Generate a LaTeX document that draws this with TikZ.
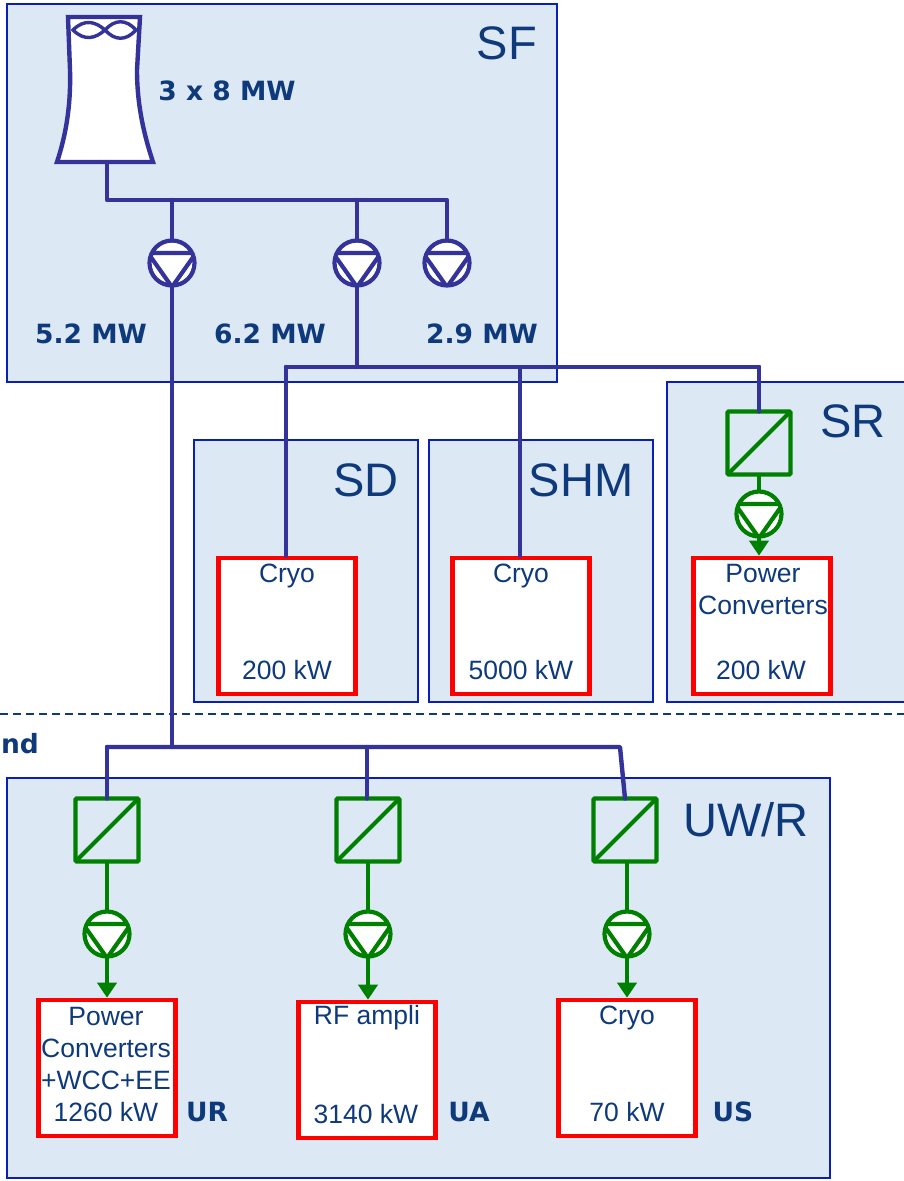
\documentclass[tikz,border=0pt]{standalone}
\usepackage{fontspec}
\setmainfont{Liberation Sans}
\newfontfamily\labfont{DejaVu Sans}
\usetikzlibrary{arrows.meta,calc}
\definecolor{panelCol}{HTML}{DCE8F4}
\definecolor{panelEdge}{HTML}{0A1FB8}
\definecolor{pipeCol}{HTML}{333399}
\definecolor{loopCol}{HTML}{008000}
\definecolor{loadEdge}{HTML}{FF0000}
\definecolor{txtCol}{HTML}{0E3A7C}
\tikzset{
  panel/.style n args={2}{draw=panelEdge, fill=panelCol, line width=1.4pt, anchor=north west,
        inner sep=0pt, outer sep=0pt, minimum width=#1, minimum height=#2},
  loadbox/.style={draw=loadEdge, fill=white, line width=4.6pt, inner sep=0pt,
        minimum width=137pt, minimum height=136pt},
  conv/.style={draw=loopCol, line width=4.2pt, rounded corners=1pt, inner sep=0pt, outer sep=0pt,
        minimum width=63pt, minimum height=63pt,
        path picture={\draw[loopCol, line width=4.2pt]
            (path picture bounding box.south west)--(path picture bounding box.north east);}},
  pump/.style={circle, draw=#1, fill=white, line width=4.2pt, inner sep=0pt, outer sep=0pt,
        minimum size=45pt,
        path picture={\draw[#1, line width=4.2pt, line join=round]
            ($(path picture bounding box.center)+(-24pt,10pt)$)--
            ($(path picture bounding box.center)+(24pt,10pt)$)--
            ($(path picture bounding box.center)+(0pt,-24pt)$)--cycle;}},
  pipe/.style={draw=pipeCol, line width=4.4pt, line cap=round, line join=round},
  lp/.style={draw=loopCol, line width=4.2pt},
  lpa/.style={lp, -{Triangle[length=15pt,width=19pt]}},
  sitelab/.style={font=\fontsize{47}{47}\selectfont, text=txtCol, inner sep=0pt},
  ltxt/.style={font=\fontsize{26.5}{32}\selectfont, text=txtCol, align=center, inner sep=0pt},
  mw/.style={font=\labfont\bfseries\fontsize{26.5}{26.5}\selectfont, text=txtCol, inner sep=0pt},
}
\begin{document}
\begin{tikzpicture}[x=1pt,y=-1pt]
  \useasboundingbox (0,0) rectangle (904,1181);
  % site panels
  \node[panel={550pt}{378pt}] (sf) at (7,4){};
  \node[panel={224pt}{262pt}] (sd) at (194,440){};
  \node[panel={224pt}{262pt}] (shm) at (429,440){};
  \node[panel={240pt}{320pt}] (sr) at (667,382){};
  \node[panel={823pt}{400pt}] (uw) at (7,778){};
  \node[sitelab] (sfN) at (507,43){SF};
  \node[sitelab] (sdN) at (366,480){SD};
  \node[sitelab] (shmN) at (581,480){SHM};
  \node[sitelab] (srN) at (853,421){SR};
  \node[sitelab] (uwN) at (746,820){UW/R};
  % surface/underground limit
  \coordinate (limL) at (0,714);
  \coordinate (limR) at (904,714);
  \draw[txtCol, line width=1.6pt, dash pattern=on 8pt off 5pt] (limL)--(limR);
  \node[mw] (ndT) at (20,744){nd};
  % cooling tower
  \draw[pipeCol, line width=4.4pt, fill=white, line join=miter]
    (68,17)--(140,17)--(137,70) .. controls (137,105) and (144,135) .. (153,162)--(57,162)
    .. controls (66,135) and (71,105) .. (70,70)--cycle;
  \draw[pipeCol, line width=3.4pt]
    (73,30) .. controls (84,19) and (95,21) .. (105,30) .. controls (115,41) and (126,41) .. (136,30)
    .. controls (126,19) and (115,19) .. (105,30) .. controls (95,39) and (84,41) .. (73,30)--cycle;
  \coordinate (twr) at (107,163);
  % pumps
  \node[pump=pipeCol] (p1) at (172,263){};
  \node[pump=pipeCol] (p2) at (357,263){};
  \node[pump=pipeCol] (p3) at (447,263){};
  \node[pump=loopCol] (p4) at (759,514){};
  \node[pump=loopCol] (p5) at (107,934){};
  \node[pump=loopCol] (p6) at (368,934){};
  \node[pump=loopCol] (p7) at (627,934){};
  % converters
  \node[conv] (c4) at (759,443){};
  \node[conv] (c5) at (107,830){};
  \node[conv] (c6) at (368,830){};
  \node[conv] (c7) at (625,830){};
  % loads
  \node[loadbox] (l1) at (287,626){};
  \node[loadbox] (l2) at (521,626){};
  \node[loadbox] (l3) at (762,626){};
  \node[loadbox] (l4) at (107,1068){};
  \node[loadbox] (l5) at (367,1070){};
  \node[loadbox] (l6) at (627,1068){};
  \node[ltxt] (t1a) at (287,576){Cryo};
  \node[ltxt] (t1b) at (287,670){200 kW};
  \node[ltxt] (t2a) at (521,576){Cryo};
  \node[ltxt] (t2b) at (521,670){5000 kW};
  \node[ltxt] (t3a) at (763,590){Power\\Converters};
  \node[ltxt] (t3b) at (761,670){200 kW};
  \node[ltxt] (t4a) at (106,1064){Power\\Converters\\+WCC+EE\\1260 kW};
  \node[ltxt] (t5a) at (367,1018){RF ampli};
  \node[ltxt] (t5b) at (366,1114){3140 kW};
  \node[ltxt] (t6a) at (627,1018){Cryo};
  \node[ltxt] (t6b) at (627,1112){70 kW};
  % figures
  \node[mw] (m0) at (227,91){3 x 8 MW};
  \node[mw] (m1) at (91,334){5.2 MW};
  \node[mw] (m2) at (270,334){6.2 MW};
  \node[mw] (m3) at (482,334){2.9 MW};
  \node[mw] (urT) at (207,1112){UR};
  \node[mw] (uaT) at (469,1112){UA};
  \node[mw] (usT) at (733,1112){US};
  % headers
  \coordinate (h1) at (107,200);
  \coordinate (h2) at (172,200);
  \coordinate (h3) at (357,200);
  \coordinate (h4) at (447,200);
  \coordinate (j1) at (357,367);
  \coordinate (j2) at (286,367);
  \coordinate (j3) at (520,367);
  \coordinate (j4) at (759,367);
  \coordinate (g1) at (172,747);
  \coordinate (g2) at (107,747);
  \coordinate (g3) at (367,747);
  \coordinate (g4) at (620,747);
  \draw[pipe] (twr)--(h1)--(h4)--(p3.north);
  \draw[pipe] (h2)--(p1.north);
  \draw[pipe] (h3)--(p2.north);
  \draw[pipe] (p1.south)--(g1);
  \draw[pipe] (p2.south)--(j1);
  \draw[pipe] (j2)--(j4);
  \draw[pipe] (j2)--(j2 |- l1.north);
  \draw[pipe] (j3)--(j3 |- l2.north);
  \draw[pipe] (j4)--(c4.north);
  \draw[pipe] (g2)--(g4)--(c7.north);
  \draw[pipe] (g2)--(c5.north);
  \draw[pipe] (g3)--(g3 |- c6.north);
  % secondary loops
  \draw[lp] (c4.south)--(p4.north);
  \draw[lpa] (p4.south)--(p4.south |- l3.north);
  \draw[lp] (c5.south)--(p5.north);
  \draw[lpa] (p5.south)--(l4.north);
  \draw[lp] (c6.south)--(p6.north);
  \draw[lpa] (p6.south)--(p6.south |- l5.north);
  \draw[lp] (p7.north |- c7.south)--(p7.north);
  \draw[lpa] (p7.south)--(l6.north);
\end{tikzpicture}
\end{document}
